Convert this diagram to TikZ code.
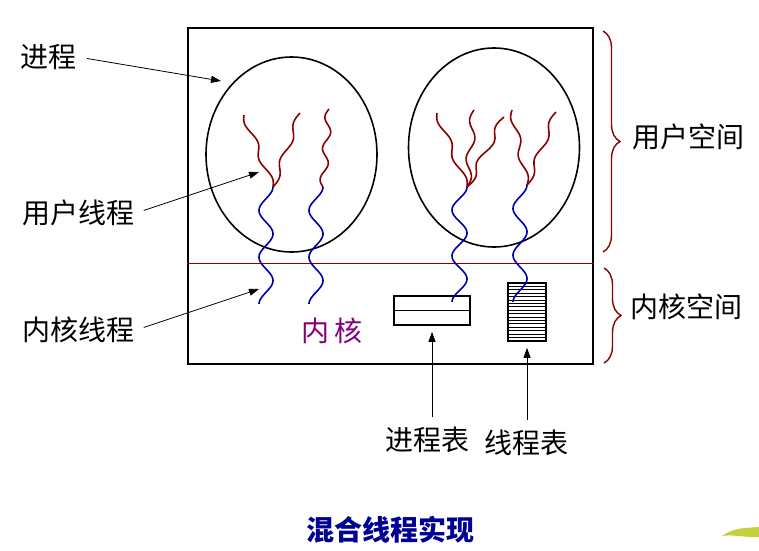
\documentclass[tikz,border=0pt]{standalone}
\usepackage{fontspec}
\newfontfamily\cjk{Noto Sans CJK SC}
\usepackage{tikz}
\usetikzlibrary{positioning,arrows.meta,shapes.geometric,decorations.pathreplacing}

\definecolor{thrred}{RGB}{140,0,0}
\definecolor{thrblue}{RGB}{0,0,170}
\definecolor{kpurple}{RGB}{128,0,128}
\definecolor{titleblue}{RGB}{0,0,150}
\definecolor{leafgreen}{RGB}{196,208,60}

\begin{document}
\begin{tikzpicture}[
  x=1pt, y=-1pt,
  >={Triangle[length=10pt,width=7pt]},
  lbl/.style={font=\cjk\fontsize{28}{30}\selectfont, inner sep=2pt},
  ptr/.style={->, line width=0.8pt},
  procell/.style={draw, ellipse, line width=1.6pt, minimum width=171pt, minimum height=195pt, inner sep=0pt},
  uthread/.style={draw=thrred, line width=1.6pt},
  kthread/.style={draw=thrblue, line width=1.6pt},
  spacebrace/.style={draw=thrred, line width=1.4pt, decorate, decoration={brace, amplitude=17pt}},
  tbl/.style={draw, line width=1.6pt, inner sep=0pt},
]
\useasboundingbox (0,0) rectangle (759,550);

% address space, user part above the red line
\node[draw, line width=2.2pt, minimum width=405pt, minimum height=336pt, inner sep=0pt] (box) at (390.5,196) {};
\draw[thrred, line width=0.8pt] (box.west |- 0,263) -- (box.east |- 0,263);

% processes
\node[procell] (proc1) at (291.5,154.5) {};
\node[procell, minimum height=199pt] (proc2) at (494,147.5) {};

% tables in the kernel
\node[tbl, minimum width=76pt, minimum height=29pt] (ptab) at (432,310.5) {};
\draw[line width=0.8pt] (ptab.west) -- (ptab.east);
\node[tbl, minimum width=38pt, minimum height=58pt] (ttab) at (527,312) {};
\foreach \k in {1,...,16}
  \draw[line width=0.7pt] (ttab.west |- 0,{283+\k*3.4}) -- (ttab.east |- 0,{283+\k*3.4});

% user threads
\foreach \xa/\ya/\xb/\yb/\s/\p in {244/115/273/187/3/2, 300/113/273/187/3/2, 329/109/323/187/3.5/2.5,
    437/113/467/187/3/2, 474/110/467/187/3.5/2, 504/117/467/187/3.5/2, 512/110/527/185/3/2, 556/112/527/185/3/2}
  \draw[uthread] plot[domain=0:1, samples=60, smooth, variable=\t]
    ({\xa+(\xb-\xa)*\t-\s*sin(360*\p*\t)}, {\ya+(\yb-\ya)*\t});

% kernel threads
\foreach \xc/\a/\ya/\yb in {266/7/187/304, 316/7/187/304, 459.5/7.5/187/302, 520/7/185/302}
  \draw[kthread] plot[domain=0:1, samples=80, smooth, variable=\t]
    ({\xc+\a*cos(900*\t)}, {\ya+(\yb-\ya)*\t});

% labels
\node[lbl] (lproc) at (48,57) {进程};
\node[lbl] (luthr) at (78,213) {用户线程};
\node[lbl] (lkthr) at (78,330) {内核线程};
\node[lbl] (uspace) at (688,137) {用户空间};
\node[lbl] (kspace) at (686,307) {内核空间};
\node[lbl, text=kpurple] (kern) at (332,331) {内\hspace{6pt}核};
\node[lbl] (lptab) at (427,440) {进程表};
\node[lbl] (lttab) at (526,443) {线程表};
\node[lbl, text=titleblue, font=\cjk\bfseries\fontsize{28}{30}\selectfont] (title) at (390,530) {混合线程实现};

\coordinate (procptr) at (221,81);
\coordinate (uthrptr) at (259,172);
\coordinate (kthrptr) at (259,289);
\draw[ptr, shorten <=9pt] (lproc.east) -- (procptr);
\draw[ptr, shorten <=8pt] (luthr.east) -- (uthrptr);
\draw[ptr, shorten <=8pt] (lkthr.east) -- (kthrptr);
\draw[ptr, shorten <=8pt, shorten >=6pt] (lptab.north -| ptab.south) -- (ptab.south);
\draw[ptr, shorten <=8pt, shorten >=6pt] (lttab.north -| ttab.south) -- (ttab.south);

% braces
\draw[spacebrace] (603,31) -- (603,252);
\draw[spacebrace] (604,268) -- (604,363);

% corner ornament
\fill[leafgreen] (722,536) .. controls (734,527) and (748,528) .. (759,527) -- (759,537) .. controls (746,538) and (734,534) .. cycle;
\end{tikzpicture}
\end{document}
